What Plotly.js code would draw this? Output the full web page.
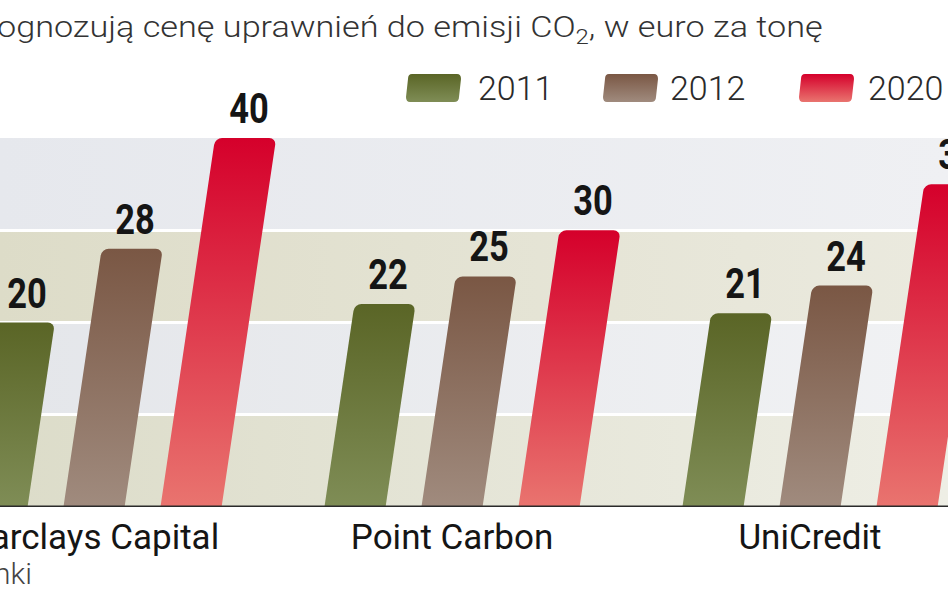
<!DOCTYPE html>
<html>
<head>
<meta charset="utf-8">
<script src="https://cdn.plot.ly/plotly-3.0.1.min.js"></script>
<style>
  html, body { margin: 0; padding: 0; background: #ffffff; }
  #chart { width: 948px; height: 593px; }
</style>
</head>
<body>
<div id="chart"></div>
<script>
// ---- data ----
const categories = ['Barclays Capital', 'Point Carbon', 'UniCredit'];
const seriesNames = ['2011', '2012', '2020'];
const values2011 = [20, 22, 21];
const values2012 = [28, 25, 24];
const values2020 = [40, 30, 35];
const bandEdges = [0, 10, 20, 30, 40];
const titleText = 'ognozują cenę uprawnień do emisji CO<sub>2</sub>, w euro za tonę';
const sourceText = 'nki';

// ---- styles ----
const midColors = ['#6b7636', '#8a6a58', '#dc2f45'];
const gradTop = ['#5a6526', '#7a5744', '#d5002b'];
const gradBottom = ['#7f8d56', '#a08b7e', '#e9746f'];
const bandLeft = ['#dcdcc9', '#e4e6ea', '#dddcc8', '#e6e8ed'];
const bandRight = ['#eeeee5', '#f1f2f4', '#ebeadf', '#eff0f3'];
const labelFont = { family: 'Roboto, sans-serif', size: 42, weight: 700, color: '#151515' };

// geometry
const W = 948, HT = 593;
const plotTop = 138, plotBottom = 507, plotH = plotBottom - plotTop;
const xRange = [-0.2626, 2.3855];
const yRange = [0, 40];
const bargap = 0.187, bargroupgap = 0.37;
const slant = 0.148; // horizontal shift per pixel of bar height

const allValues = [values2011, values2012, values2020];
const traces = allValues.map((vals, i) => ({
  type: 'bar',
  name: seriesNames[i],
  x: categories,
  y: vals,
  marker: { color: midColors[i], cornerradius: 7, line: { width: 0 } },
  hoverinfo: 'skip'
}));

const shapes = [];
for (let b = 0; b < bandEdges.length - 1; b++) {
  shapes.push({
    type: 'rect', layer: 'below', xref: 'paper', yref: 'y',
    x0: 0, x1: 1, y0: bandEdges[b], y1: bandEdges[b + 1],
    fillcolor: bandLeft[b], line: { width: 0 }
  });
}
shapes.push({
  type: 'line', layer: 'above', xref: 'paper', yref: 'y',
  x0: 0, x1: 1, y0: 0, y1: 0, line: { color: '#2a2a2a', width: 3 }
});

// value labels: placed over the slanted bar tops
const annotations = [];
const pxPerCat = W / (xRange[1] - xRange[0]);
const pxPerUnit = plotH / (yRange[1] - yRange[0]);
const slotW = (1 - bargap) / allValues.length;
allValues.forEach((vals, j) => {
  vals.forEach((v, i) => {
    const shiftPx = slant * (v * pxPerUnit + 20);
    const xData = i + (j - 1) * slotW + shiftPx / pxPerCat;
    annotations.push({
      text: String(v), xref: 'paper', yref: 'y',
      x: (xData - xRange[0]) / (xRange[1] - xRange[0]), y: v,
      xanchor: 'center', yanchor: 'bottom', yshift: 3, showarrow: false,
      font: labelFont
    });
  });
});
const nLabels = annotations.length;

// legend (drawn manually with large rounded swatches)
const legendSwatchX = [433, 630, 826];
const legendTextX = [476, 668, 866];
const legendY = 88;
const pyToPaper = py => (plotBottom - py) / plotH;
const swatchPath = 'M -21,14 L 24,14 Q 28,14 28,9 L 26,-9 Q 26,-14 21,-14 L -23,-14 Q -27,-14 -27,-9 L -25,9 Q -25,14 -21,14 Z';
seriesNames.forEach((nm, i) => {
  shapes.push({
    type: 'path', layer: 'above', xref: 'paper', yref: 'paper',
    xsizemode: 'pixel', ysizemode: 'pixel',
    xanchor: legendSwatchX[i] / W, yanchor: pyToPaper(legendY),
    path: swatchPath, fillcolor: midColors[i], line: { width: 0 }
  });
  annotations.push({
    text: nm, xref: 'paper', yref: 'paper',
    x: legendTextX[i] / W, y: pyToPaper(legendY),
    xanchor: 'left', yanchor: 'middle', showarrow: false,
    font: { family: 'Roboto, sans-serif', size: 34, weight: 300, color: '#2a2a2a' }
  });
});
annotations.push({
  text: sourceText, xref: 'paper', yref: 'paper',
  x: -8 / W, y: pyToPaper(573), xanchor: 'left', yanchor: 'middle', showarrow: false,
  font: { family: 'Roboto, sans-serif', size: 30, weight: 300, color: '#444444' }
});

const layout = {
  width: W, height: HT,
  margin: { l: 0, r: 0, t: plotTop, b: HT - plotBottom, pad: 0 },
  paper_bgcolor: '#ffffff', plot_bgcolor: '#ffffff',
  showlegend: false,
  barmode: 'group', bargap: bargap, bargroupgap: bargroupgap,
  title: {
    text: titleText, xref: 'container', yref: 'container',
    x: 0, xanchor: 'left', y: 1 - 27 / HT, yanchor: 'middle',
    font: { family: 'Roboto, sans-serif', size: 30, weight: 300, color: '#333333' }
  },
  xaxis: {
    type: 'category', range: xRange,
    showgrid: false, zeroline: false, showline: false, ticks: '',
    tickfont: { family: 'Roboto, sans-serif', size: 35, color: '#151515' },
    ticklabelstandoff: 6, fixedrange: true
  },
  yaxis: {
    range: yRange, tickvals: [10, 20, 30], showticklabels: false,
    showgrid: true, gridcolor: '#ffffff', gridwidth: 3,
    zeroline: false, showline: false, ticks: '', fixedrange: true
  },
  shapes: shapes,
  annotations: annotations
};

const gd = document.getElementById('chart');
Plotly.newPlot(gd, traces, layout, { staticPlot: true, displayModeBar: false }).then(() => {
  const NS = 'http://www.w3.org/2000/svg';
  const defs = gd.querySelector('.main-svg defs');
  function addGrad(id, c1, c2, horizontal) {
    const g = document.createElementNS(NS, 'linearGradient');
    g.setAttribute('id', id);
    g.setAttribute('x1', '0'); g.setAttribute('y1', '0');
    g.setAttribute('x2', horizontal ? '1' : '0'); g.setAttribute('y2', horizontal ? '0' : '1');
    [[0, c1], [1, c2]].forEach(([o, c]) => {
      const s = document.createElementNS(NS, 'stop');
      s.setAttribute('offset', o); s.setAttribute('stop-color', c);
      g.appendChild(s);
    });
    defs.appendChild(g);
  }
  gradTop.forEach((c, i) => addGrad('barg' + i, c, gradBottom[i], false));
  bandLeft.forEach((c, i) => addGrad('bandg' + i, c, bandRight[i], true));

  const H = gd._fullLayout._size.h;
  gd.querySelectorAll('.barlayer .trace').forEach((tr, i) => {
    tr.querySelectorAll('.point path').forEach(path => {
      path.setAttribute('transform', `matrix(1,0,${-slant},1,${slant * H},0)`);
      path.style.fill = `url(#barg${i})`;
    });
  });
  gd.querySelectorAll('.shapelayer path[data-index]').forEach(p => {
    const idx = +p.getAttribute('data-index');
    if (idx < 4) p.style.fill = `url(#bandg${idx})`;
    else if (idx >= 5 && idx <= 7) p.style.fill = `url(#barg${idx - 5})`;
  });
  // condensed look of the value labels
  gd.querySelectorAll('.annotation').forEach(a => {
    const idx = +a.getAttribute('data-index');
    if (idx >= nLabels) return;
    const txt = a.querySelector('text.annotation-text');
    if (!txt) return;
    const bb = txt.getBBox();
    const cx = bb.x + bb.width / 2;
    txt.setAttribute('transform', (txt.getAttribute('transform') || '') +
      ` translate(${cx},0) scale(0.82,1) translate(${-cx},0)`);
  });
  // condensed title, spanning the same width as in the reference
  const t = gd.querySelector('.gtitle');
  if (t) {
    const bb = t.getBBox();
    const sx = 826 / bb.width;
    const x0 = bb.x;
    t.setAttribute('transform', (t.getAttribute('transform') || '') +
      ` translate(-3,0) translate(${x0},0) scale(${sx},1) translate(${-x0},0)`);
  }
});
</script>
</body>
</html>
